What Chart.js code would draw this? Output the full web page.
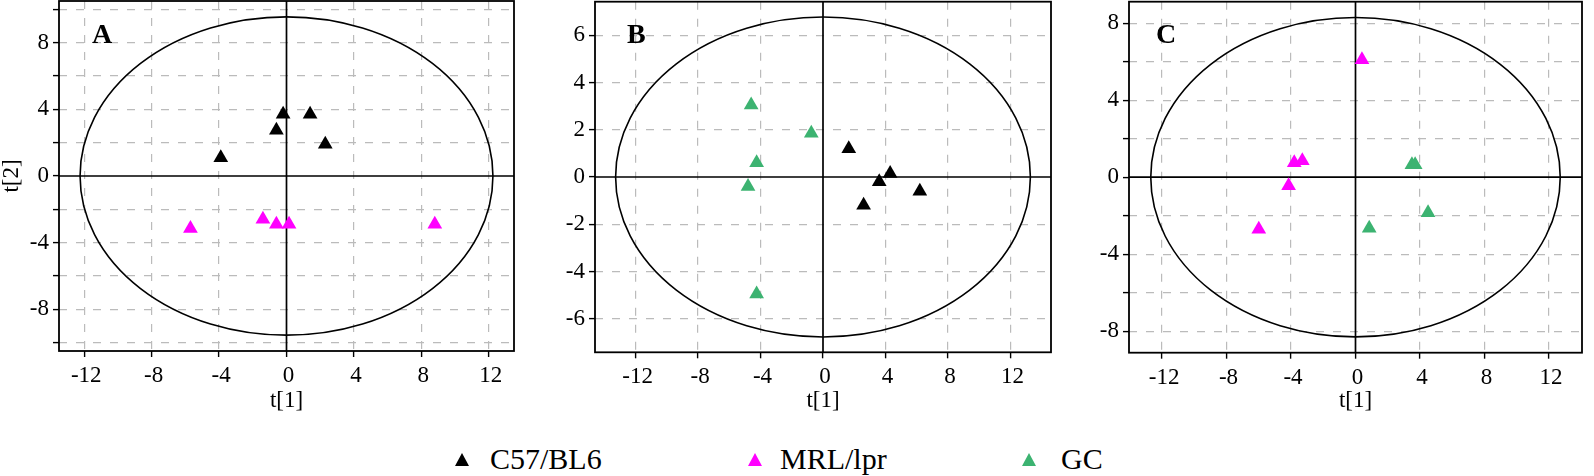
<!DOCTYPE html>
<html>
<head>
<meta charset="utf-8">
<script src="https://cdn.jsdelivr.net/npm/chart.js@4.4.1/dist/chart.umd.min.js"></script>
<style>
  body { margin: 0; background: #fff; width: 1594px; height: 476px; overflow: hidden; position: relative; font-family: "Liberation Serif", "Times New Roman", serif; }
  .panel { position: absolute; top: 0; height: 420px; }
  .legend-text { position: absolute; top: 444px; font-size: 30px; line-height: 30px; color: #000; white-space: nowrap; }
  .tri { position: absolute; top: 453px; width: 0; height: 0; border-left: 7px solid transparent; border-right: 7px solid transparent; border-bottom: 13px solid #000; }
</style>
</head>
<body>
<div class="panel" style="left:0px;width:518px"><canvas id="chartA"></canvas></div>
<div class="panel" style="left:540px;width:515px"><canvas id="chartB"></canvas></div>
<div class="panel" style="left:1080px;width:506px"><canvas id="chartC"></canvas></div>
<div id="legend"></div>
<script>
// groups and colours
const groups = ['C57/BL6', 'MRL/lpr', 'GC'];
const groupColors = ['#000000', '#ff00ff', '#3cb371'];
const legendTriX = [462, 755, 1029];
const legendTextX = [490, 780, 1061];

// panel A: C57/BL6 vs MRL/lpr
const aC57x = [-3.9, -0.2, 1.4, -0.6, 2.3];
const aC57y = [1.1, 3.7, 3.7, 2.75, 1.9];
const aMRLx = [-5.7, -1.4, -0.6, 0.15, 8.8];
const aMRLy = [-3.15, -2.6, -2.9, -2.9, -2.9];

// panel B: C57/BL6 vs GC
const bC57x = [1.65, 4.3, 3.6, 6.2, 2.6];
const bC57y = [1.2, 0.15, -0.2, -0.6, -1.2];
const bGCx = [-4.6, -0.75, -4.25, -4.8, -4.25];
const bGCy = [3.05, 1.85, 0.6, -0.4, -4.95];

// panel C: MRL/lpr vs GC
const cMRLx = [0.4, -3.8, -3.3, -4.15, -6.0];
const cMRLy = [6.1, 0.75, 0.85, -0.45, -2.7];
const cGCx = [3.5, 3.7, 4.5, 0.85];
const cGCy = [0.65, 0.65, -1.85, -2.65];

// axis ranges, tick label steps and the ellipse half-axes per panel
const panelLetters = ['A', 'B', 'C'];
const xRange = [13.5, 14.6, 14.05];
const yRange = [10.5, 7.42, 9.12];
const yLabelStep = [4, 2, 4];
const ellipseRx = [12.25, 13.28, 12.7];
const ellipseRy = [9.55, 6.77, 8.3];

const serif = '"Liberation Serif", "Times New Roman", serif';

function pts(xs, ys) {
    return xs.map((x, i) => ({x: x, y: ys[i]}));
}

const framePlugin = {
    id: 'frame',
    beforeDatasetsDraw(chart, args, opts) {
        const ctx = chart.ctx;
        const a = chart.chartArea;
        const sx = chart.scales.x, sy = chart.scales.y;
        const x0 = sx.getPixelForValue(0), y0 = sy.getPixelForValue(0);
        ctx.save();
        ctx.strokeStyle = '#000';
        ctx.lineWidth = 1.7;
        ctx.beginPath();
        ctx.moveTo(x0, a.top); ctx.lineTo(x0, a.bottom);
        ctx.moveTo(a.left, y0); ctx.lineTo(a.right, y0);
        ctx.stroke();
        ctx.lineWidth = 1.6;
        ctx.beginPath();
        ctx.ellipse(x0, y0, sx.getPixelForValue(opts.rx) - x0, y0 - sy.getPixelForValue(opts.ry), 0, 0, Math.PI * 2);
        ctx.stroke();
        ctx.lineWidth = 1.8;
        ctx.strokeRect(a.left, a.top, a.right - a.left, a.bottom - a.top);
        ctx.font = 'bold 28px ' + serif;
        ctx.fillStyle = '#000';
        ctx.textBaseline = 'alphabetic';
        ctx.fillText(opts.letter, a.left + opts.dx, 43);
        ctx.restore();
    }
};

function makeChart(id, idx, sets, yWidth, bottom, padTop, letterDx, showYTitle) {
    const tickFont = {family: serif, size: 23};
    return new Chart(document.getElementById(id), {
        type: 'scatter',
        data: {
            datasets: sets.map(s => ({
                label: groups[s.g],
                data: s.data,
                pointStyle: 'triangle',
                pointRadius: 8.5,
                pointHoverRadius: 8.5,
                backgroundColor: groupColors[s.g],
                borderColor: groupColors[s.g],
                borderWidth: 0
            }))
        },
        options: {
            responsive: true,
            maintainAspectRatio: false,
            animation: false,
            layout: {autoPadding: false, padding: {top: padTop, right: 4, left: 0, bottom: 0}},
            plugins: {
                legend: {display: false},
                tooltip: {enabled: false},
                frame: {rx: ellipseRx[idx], ry: ellipseRy[idx], letter: panelLetters[idx], dx: letterDx}
            },
            scales: {
                x: {
                    min: -xRange[idx], max: xRange[idx],
                    afterFit(scale) { scale.height = 420 - bottom; scale.paddingLeft = 0; scale.paddingRight = 0; },
                    ticks: {stepSize: 4, includeBounds: false, padding: 5, labelOffset: 2, color: '#000', font: tickFont, maxRotation: 0},
                    grid: {
                        color: c => c.tick && c.tick.value === 0 ? 'rgba(0,0,0,0)' : '#bbbbbb',
                        lineWidth: 1.2, tickLength: 6, tickColor: '#000', tickWidth: 1.4
                    },
                    border: {display: false, dash: [8, 9]},
                    title: {display: true, text: 't[1]', color: '#000', font: {family: serif, size: 23, lineHeight: 1}, padding: {top: 0, bottom: 8}}
                },
                y: {
                    min: -yRange[idx], max: yRange[idx],
                    afterFit(scale) { scale.width = yWidth; scale.paddingTop = 0; scale.paddingBottom = 0; },
                    ticks: {
                        stepSize: 2, includeBounds: false, padding: 4, color: '#000', font: tickFont,
                        callback: v => (v % yLabelStep[idx] === 0 ? v : '')
                    },
                    grid: {
                        color: c => c.tick && c.tick.value === 0 ? 'rgba(0,0,0,0)' : '#bbbbbb',
                        lineWidth: 1.2, tickLength: 6, tickColor: '#000', tickWidth: 1.4
                    },
                    border: {display: false, dash: [8, 9]},
                    title: {display: showYTitle, text: 't[2]', color: '#000', font: {family: serif, size: 23, lineHeight: 1}, padding: 0}
                }
            }
        },
        plugins: [framePlugin]
    });
}

makeChart('chartA', 0, [{g: 0, data: pts(aC57x, aC57y)}, {g: 1, data: pts(aMRLx, aMRLy)}], 59, 351, 1, 33, true);
makeChart('chartB', 1, [{g: 0, data: pts(bC57x, bC57y)}, {g: 2, data: pts(bGCx, bGCy)}], 55, 352.3, 1.7, 32, false);
makeChart('chartC', 2, [{g: 1, data: pts(cMRLx, cMRLy)}, {g: 2, data: pts(cGCx, cGCy)}], 49, 352.7, 1.7, 27, false);

// legend below the three panels
const legend = document.getElementById('legend');
groups.forEach((name, i) => {
    const tri = document.createElement('div');
    tri.className = 'tri';
    tri.style.left = (legendTriX[i] - 7) + 'px';
    tri.style.borderBottomColor = groupColors[i];
    legend.appendChild(tri);
    const text = document.createElement('div');
    text.className = 'legend-text';
    text.style.left = legendTextX[i] + 'px';
    text.textContent = name;
    legend.appendChild(text);
});
</script>
</body>
</html>
